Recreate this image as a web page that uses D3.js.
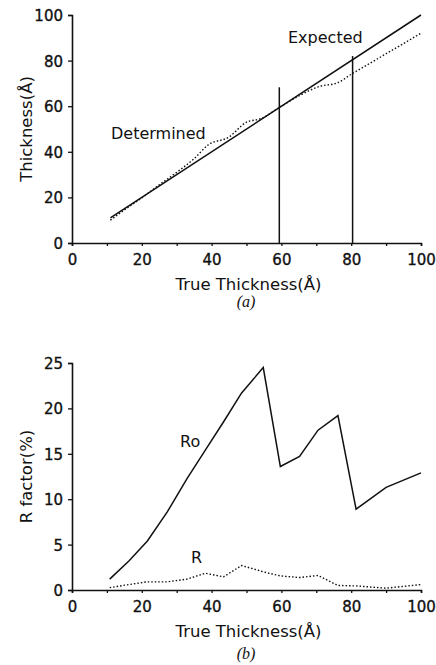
<!DOCTYPE html>
<html>
<head>
<meta charset="utf-8">
<script src="https://cdn.jsdelivr.net/npm/d3@7"></script>
<style>
  body { margin: 0; background: #fff; }
  svg text { font-family: "DejaVu Sans", sans-serif; fill: #111; }
</style>
</head>
<body>
<svg id="fig" width="436" height="665"></svg>
<script>
// (a) expected vs determined thickness
const expectedX = [11, 100];
const expectedY = [11, 100];
const determinedX = [11, 15, 20, 25, 30, 35, 39, 45, 50, 54, 60, 65, 71, 76, 80, 85, 90, 95, 100];
const determinedY = [10, 14.5, 19.8, 25.5, 31, 37, 43, 46.5, 53, 54.5, 60, 64.5, 68.7, 70.2, 74, 78.5, 83, 87.5, 92];
const markerX = [59.4, 80.4];
const markerTop = [68.3, 82];

// (b) R factors
const rX = [10.8, 16.3, 21.6, 27.3, 33, 38.2, 43.4, 48.6, 54.8, 59.7, 65.2, 70.5, 76.2, 81.4, 90, 100];
const roY = [1.2, 3.2, 5.4, 8.6, 12.3, 15.4, 18.5, 21.7, 24.5, 13.6, 14.7, 17.6, 19.2, 8.9, 11.3, 12.9];
const rY = [0.26, 0.6, 0.9, 0.9, 1.2, 1.85, 1.45, 2.7, 2.0, 1.55, 1.37, 1.6, 0.5, 0.45, 0.2, 0.6];

const xTicks = [0, 10, 20, 30, 40, 50, 60, 70, 80, 90, 100];
const yTicksA = [0, 20, 40, 60, 80, 100];
const yTicksB = [0, 5, 10, 15, 20, 25];

const svg = d3.select("#fig");
const left = 72, right = 421;

function panel(top, bottom, yMax, yTicks, yTitle, caption, capY){
  const x = d3.scaleLinear().domain([0, 100]).range([left, right]);
  const y = d3.scaleLinear().domain([0, yMax]).range([bottom, top]);
  const g = svg.append("g");

  const xa = g.append("g").attr("transform", `translate(0,${bottom})`)
    .call(d3.axisBottom(x).tickValues(xTicks).tickSize(3).tickPadding(5)
      .tickFormat(d => d % 20 === 0 ? d : ""));
  const ya = g.append("g").attr("transform", `translate(${left},0)`)
    .call(d3.axisLeft(y).tickValues(yTicks).tickSize(4).tickPadding(5));
  [xa, ya].forEach(ax => {
    ax.select(".domain").attr("stroke", "#111").attr("stroke-width", 1.6);
    ax.selectAll(".tick line").attr("stroke", "#111").attr("stroke-width", 1.3);
    ax.selectAll(".tick text").attr("font-size", 15)
      .style("font-family", "'DejaVu Sans', sans-serif")
      .attr("fill", "#111").attr("stroke", "#111").attr("stroke-width", 0.35);
  });
  xa.selectAll(".tick text").attr("dy", "0.95em");
  ya.selectAll(".tick text").attr("dy", "0.36em");

  g.append("text").attr("x", (left + right) / 2 + 2).attr("y", bottom + 47)
    .attr("text-anchor", "middle").attr("font-size", 16.5).text("True Thickness(Å)");
  g.append("text").attr("transform", `translate(32,${(top + bottom) / 2}) rotate(-90)`)
    .attr("text-anchor", "middle").attr("font-size", 16.5).text(yTitle);
  g.append("text").attr("x", 246).attr("y", capY).attr("text-anchor", "middle")
    .attr("font-size", 16).attr("font-style", "italic")
    .style("font-family", "'Liberation Serif', 'Times New Roman', serif").text(caption);
  return {g, x, y};
}

// panel (a)
const a = panel(15, 243, 100, yTicksA, "Thickness(Å)", "(a)", 307);
const lineA = d3.line().x(d => a.x(d[0])).y(d => a.y(d[1]));
a.g.append("path").datum(d3.zip(expectedX, expectedY)).attr("d", lineA)
  .attr("fill", "none").attr("stroke", "#111").attr("stroke-width", 1.5);
a.g.append("path").datum(d3.zip(determinedX, determinedY))
  .attr("d", d3.line().curve(d3.curveMonotoneX).x(d => a.x(d[0])).y(d => a.y(d[1])))
  .attr("fill", "none").attr("stroke", "#111").attr("stroke-width", 1.4).attr("stroke-dasharray", "1.5,2");
a.g.selectAll("line.mark").data(d3.zip(markerX, markerTop)).join("line").attr("class", "mark")
  .attr("x1", d => a.x(d[0])).attr("x2", d => a.x(d[0]))
  .attr("y1", a.y(0)).attr("y2", d => a.y(d[1]))
  .attr("stroke", "#111").attr("stroke-width", 1.5);
a.g.append("text").attr("x", 288).attr("y", 43).attr("font-size", 16).text("Expected");
a.g.append("text").attr("x", 111).attr("y", 139).attr("font-size", 16).text("Determined");

// panel (b)
const b = panel(363, 590, 25, yTicksB, "R factor(%)", "(b)", 659);
const lineB = d3.line().x(d => b.x(d[0])).y(d => b.y(d[1]));
b.g.append("path").datum(d3.zip(rX, roY)).attr("d", lineB)
  .attr("fill", "none").attr("stroke", "#111").attr("stroke-width", 1.5);
b.g.append("path").datum(d3.zip(rX, rY)).attr("d", lineB)
  .attr("fill", "none").attr("stroke", "#111").attr("stroke-width", 1.4).attr("stroke-dasharray", "1.5,2");
b.g.append("text").attr("x", 180).attr("y", 447).attr("font-size", 16).text("Ro");
b.g.append("text").attr("x", 191).attr("y", 563).attr("font-size", 16).text("R");
</script>
</body>
</html>
